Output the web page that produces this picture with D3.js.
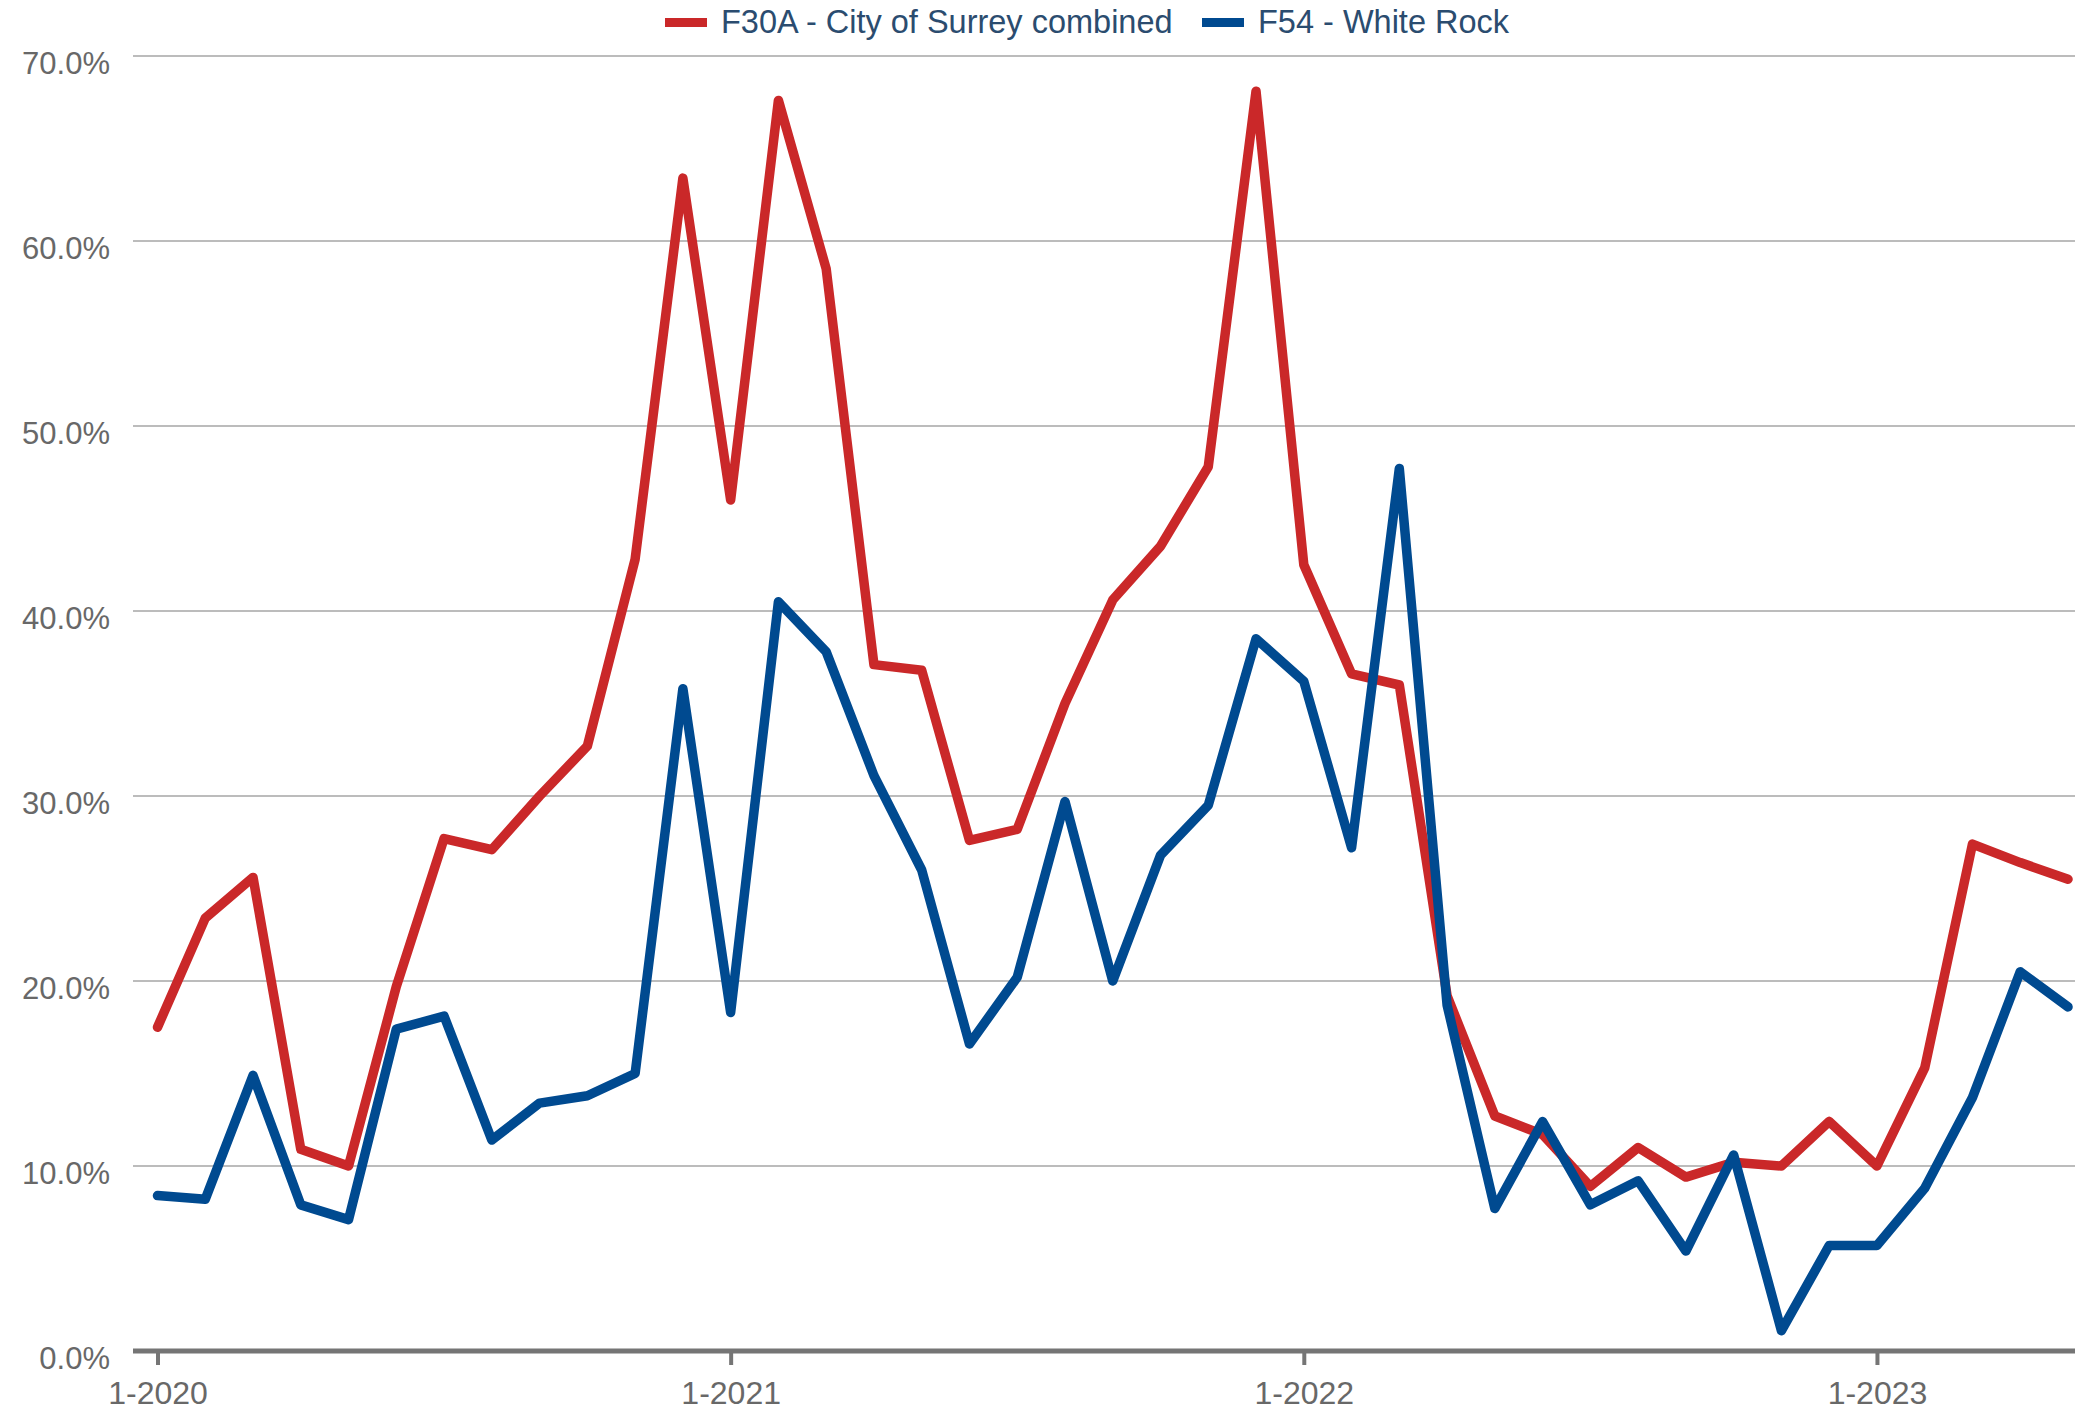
<!DOCTYPE html>
<head>
<meta charset="utf-8">
<title>Surrey vs White Rock</title>
<script src="https://d3js.org/d3.v7.min.js"></script>
<style>
body { margin: 0; background: #fff; }
text { font-family: "Liberation Sans", Arial, sans-serif; }
</style>
</head>
<body>
<div id="container"></div>
<script>
//---------------------------DATA---------------------------//
// monthly, Jan 2020 .. May 2023
const yearTicks = ["1-2020", "1-2021", "1-2022", "1-2023"];
const yTicks = [0, 10, 20, 30, 40, 50, 60, 70];
const seriesNames = ["F30A - City of Surrey combined", "F54 - White Rock"];

const surrey = [17.5, 23.4, 25.6, 10.9, 10.0, 19.7, 27.7, 27.1, 30.0, 32.7,
  42.8, 63.4, 46.0, 67.6, 58.5, 37.1, 36.8, 27.6, 28.2, 35.0,
  40.6, 43.5, 47.8, 68.1, 42.5, 36.6, 36.0, 19.2, 12.7, 11.7,
  8.9, 11.0, 9.4, 10.2, 10.0, 12.4, 10.0, 15.3, 27.4, 26.4, 25.5];

const whiteRock = [8.4, 8.2, 14.9, 7.9, 7.1, 17.4, 18.1, 11.4, 13.4, 13.8,
  15.0, 35.8, 18.3, 40.5, 37.8, 31.1, 26.0, 16.6, 20.2, 29.7,
  20.0, 26.8, 29.5, 38.5, 36.2, 27.2, 47.7, 18.7, 7.7, 12.4,
  7.9, 9.2, 5.4, 10.6, 1.1, 5.7, 5.7, 8.8, 13.7, 20.5, 18.6];

const colors = ["#ca2829", "#004a90"];

//---------------------------SVG----------------------------//
const width = 2075;
const height = 1409;

const svg = d3.select("#container").append("svg")
    .attr("width", width)
    .attr("height", height);

//--------------------------SCALES--------------------------//
const gridLeft = 133;
const xScale = d3.scaleLinear().domain([0, 40]).range([157.5, 2068]);
const yScale = d3.scaleLinear().domain([0, 70]).range([1351, 56]);

//---------------------------GRID---------------------------//
svg.append("g")
  .selectAll("line")
  .data(yTicks.filter(d => d > 0))
  .join("line")
    .attr("x1", gridLeft)
    .attr("x2", width)
    .attr("y1", d => yScale(d))
    .attr("y2", d => yScale(d))
    .attr("stroke", "#bcbcbc")
    .attr("stroke-width", 2);

// y labels
svg.append("g")
  .selectAll("text")
  .data(yTicks)
  .join("text")
    .attr("x", 110)
    .attr("y", d => yScale(d) + 18)
    .attr("text-anchor", "end")
    .attr("fill", "#686868")
    .style("font-size", "31px")
    .text(d => d.toFixed(1) + "%");

//--------------------------X AXIS--------------------------//
const xaxis = d3.axisBottom(xScale)
    .tickValues(yearTicks.map((d, i) => i * 12))
    .tickFormat((d, i) => yearTicks[i])
    .tickSize(14)
    .tickPadding(16);

const gx = svg.append("g")
    .attr("transform", "translate(0," + yScale(0) + ")")
    .call(xaxis);
gx.select(".domain").remove();
gx.selectAll(".tick line").attr("stroke", "#757575").attr("stroke-width", 4);
gx.selectAll(".tick text")
    .attr("fill", "#686868")
    .style("font-size", "32px")
    .style("font-family", "'Liberation Sans', Arial, sans-serif");

//---------------------------LINES--------------------------//
const line = d3.line()
    .x((d, i) => xScale(i))
    .y(d => yScale(d));

[surrey, whiteRock].forEach(function(s, k) {
  svg.append("path")
    .attr("d", line(s))
    .attr("fill", "none")
    .attr("stroke", colors[k])
    .attr("stroke-width", 9.5)
    .attr("stroke-linejoin", "round")
    .attr("stroke-linecap", "round");
});

// baseline drawn over the lines
svg.append("line")
    .attr("x1", gridLeft)
    .attr("x2", width)
    .attr("y1", yScale(0))
    .attr("y2", yScale(0))
    .attr("stroke", "#757575")
    .attr("stroke-width", 5);

//--------------------------LEGEND--------------------------//
const legendX = [665, 1202];
const legend = svg.append("g")
  .selectAll("g")
  .data(seriesNames)
  .join("g")
    .attr("transform", (d, i) => "translate(" + legendX[i] + ",0)");

legend.append("rect")
    .attr("x", 0)
    .attr("y", 18)
    .attr("width", 42)
    .attr("height", 9)
    .attr("fill", (d, i) => colors[i]);

legend.append("text")
    .attr("x", 56)
    .attr("y", 33)
    .attr("fill", "#2b4c6f")
    .style("font-size", "32.5px")
    .text(d => d);
</script>
</body>
